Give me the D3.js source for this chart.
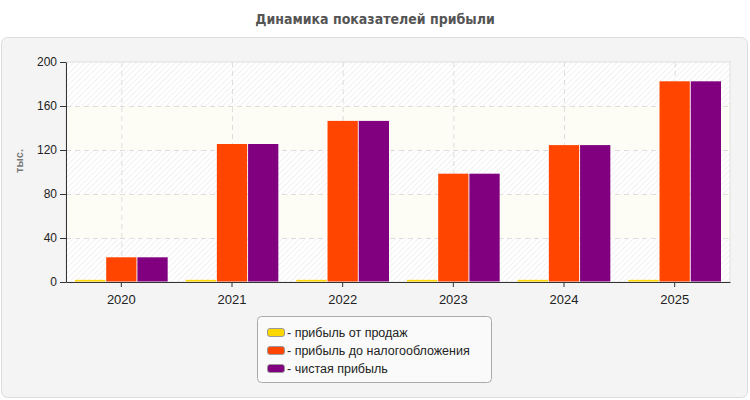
<!DOCTYPE html>
<html>
<head>
<meta charset="utf-8">
<script src="https://cdn.jsdelivr.net/npm/d3@7"></script>
<style>
  body { margin: 0; background: #fff; }
  text { font-family: "Liberation Sans", Arial, sans-serif; }
</style>
</head>
<body>
<div id="viz"></div>
<script>
const years = ['2020', '2021', '2022', '2023', '2024', '2025'];
const salesProfit = [1.5, 1.5, 1.5, 1.5, 1.5, 1.5];
const preTaxProfit = [22, 125, 146, 98, 124, 182];
const netProfit = [22, 125, 146, 98, 124, 182];
const seriesNames = ['прибыль от продаж', 'прибыль до налогообложения', 'чистая прибыль'];
const seriesColors = ['#ffd700', '#ff4500', '#800080'];
const yTicks = [0, 40, 80, 120, 160, 200];

const w = 750, h = 400;
const plotL = 66, plotR = 730, plotT = 62, plotB = 282;

const svg = d3.select('#viz').append('svg').attr('width', w).attr('height', h);

// pattern for hatched bands
const defs = svg.append('defs');
const pat = defs.append('pattern').
attr('id', 'hatch').
attr('patternUnits', 'userSpaceOnUse').
attr('width', 4).attr('height', 4).
attr('patternTransform', 'rotate(-45)');
pat.append('rect').attr('width', 4).attr('height', 4).attr('fill', '#ffffff');
pat.append('line').attr('x1', 0).attr('y1', 0).attr('x2', 4).attr('y2', 0).
attr('stroke', '#ececec').attr('stroke-width', 1.4);

svg.append('text').
text('Динамика показателей прибыли').
attr('x', w / 2).attr('y', 24).
attr('text-anchor', 'middle').
style('font-family', '"DejaVu Sans Condensed", "DejaVu Sans", sans-serif').
style('font-size', '14px').style('font-weight', 'bold').
style('fill', '#555');

// outer panel
svg.append('rect').
attr('x', 1.5).attr('y', 37.5).attr('width', 746).attr('height', 360).
attr('rx', 6).
attr('fill', '#f4f4f4').attr('stroke', '#dcdcdc');

const x = d3.scaleBand().domain(years).range([plotL, plotR]);
const y = d3.scaleLinear().domain([0, 200]).range([plotB, plotT]);

// background bands
for (let i = 0; i < yTicks.length - 1; i++) {
  svg.append('rect').
  attr('x', plotL).attr('y', y(yTicks[i + 1])).
  attr('width', plotR - plotL).attr('height', y(yTicks[i]) - y(yTicks[i + 1])).
  attr('fill', i % 2 == 0 ? 'url(#hatch)' : '#fdfdf6');
}
svg.append('rect').
attr('x', plotL).attr('y', plotT).attr('width', plotR - plotL).attr('height', plotB - plotT).
attr('fill', 'none').attr('stroke', '#e0e0e0');

// grid
svg.selectAll('.hgrid').data(yTicks.slice(1, -1)).enter().append('line').
attr('x1', plotL).attr('x2', plotR).
attr('y1', d => y(d) + 0.5).attr('y2', d => y(d) + 0.5).
attr('stroke', '#dddddd').attr('stroke-dasharray', '5,4');
svg.selectAll('.vgrid').data(years).enter().append('line').
attr('x1', d => x(d) + x.bandwidth() / 2 + 0.5).attr('x2', d => x(d) + x.bandwidth() / 2 + 0.5).
attr('y1', plotT).attr('y2', plotB).
attr('stroke', '#dddddd').attr('stroke-dasharray', '5,4');

// axes
const xAxis = d3.axisBottom(x).tickSize(5).tickSizeOuter(0);
const gx = svg.append('g').attr('transform', 'translate(0,' + plotB + ')').call(xAxis);
gx.selectAll('text').style('font-size', '13px').style('fill', '#222').attr('dy', '1.05em');

const yAxis = d3.axisLeft(y).tickValues(yTicks).tickSize(6).tickSizeOuter(0);
const gy = svg.append('g').attr('transform', 'translate(' + plotL + ',0)').call(yAxis);
gy.selectAll('text').style('font-size', '12px').style('fill', '#222');
svg.selectAll('.domain, .tick line').attr('stroke', '#333');

// bars
const allSeries = [salesProfit, preTaxProfit, netProfit];
const inner = d3.scaleBand().domain([0, 1, 2]).range([9, x.bandwidth() - 9]).paddingInner(0.03);
allSeries.forEach((vals, s) => {
  svg.selectAll('.bar' + s).data(years).enter().append('rect').
  attr('x', (d, i) => x(d) + inner(s)).
  attr('y', (d, i) => y(vals[i]) - 0.5).
  attr('width', inner.bandwidth()).
  attr('height', (d, i) => y(0) - y(vals[i])).
  attr('fill', seriesColors[s]);
});

svg.append('text').
text('тыс.').
attr('transform', 'rotate(-90)').
attr('x', -161).attr('y', 23).
attr('text-anchor', 'middle').
style('font-size', '11px').style('font-weight', 'bold').
style('fill', '#777');

// legend
const lg = svg.append('g').attr('transform', 'translate(257,316)');
lg.append('rect').
attr('x', 0.5).attr('y', 0.5).attr('width', 234).attr('height', 66).attr('rx', 4).
attr('fill', '#fafafa').attr('stroke', '#aaa');
seriesNames.forEach((name, i) => {
  lg.append('rect').
  attr('x', 10.5).attr('y', 12.5 + i * 18).attr('width', 17).attr('height', 8).attr('rx', 2.5).
  attr('fill', seriesColors[i]).attr('stroke', '#999');
  lg.append('text').
  text('- ' + name).
  attr('x', 30).attr('y', 20.5 + i * 18).
  style('font-size', '12.5px').style('fill', '#222');
});
</script>
</body>
</html>
